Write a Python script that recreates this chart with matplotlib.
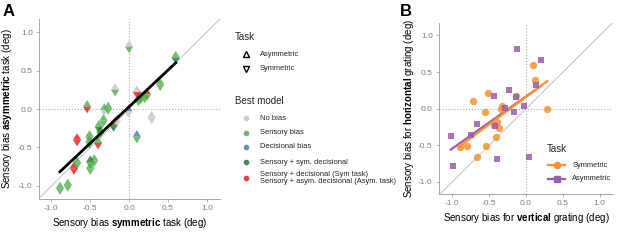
import numpy as np
import matplotlib.pyplot as plt
from matplotlib.path import Path

plt.rcParams['font.family'] = 'Liberation Sans'
plt.rcParams['mathtext.fontset'] = 'custom'
plt.rcParams['mathtext.rm'] = 'Liberation Sans'
plt.rcParams['mathtext.bf'] = 'Liberation Sans:bold'

# ---- panel A data: bias in symmetric task (x) vs asymmetric task (y)
sym_bias = [0.00, 0.60, -0.18, 0.40, 0.10, 0.23, 0.15, 0.20, 0.12, -0.54,
            -0.32, -0.27, -0.01, 0.29, 0.10, -0.16, -0.20, -0.33, -0.39, -0.37,
            -0.67, -0.51, -0.51, -0.40, -0.45, -0.50, -0.50, -0.67, -0.71, -0.89,
            -0.79]
asym_bias = [0.81, 0.67, 0.25, 0.32, 0.22, 0.19, 0.15, 0.16, 0.12, 0.03,
             -0.01, 0.01, -0.03, -0.11, -0.36, -0.15, -0.21, -0.15, -0.23, -0.30,
             -0.40, -0.36, -0.43, -0.44, -0.67, -0.69, -0.77, -0.70, -0.77, -1.03,
             -0.99]
# best model per task (top half = asymmetric, bottom half = symmetric)
asym_model = ['none', 'sensory', 'none', 'sensory', 'none', 'mixed', 'sensory', 'sensory', 'sensory', 'sensory',
              'sensory', 'sensory', 'decisional', 'none', 'decisional', 'none', 'mixed', 'sensory', 'sensory', 'sensory',
              'mixed', 'sensory', 'sensory', 'sensory', 'sensory', 'sens_sym', 'sensory', 'sensory', 'mixed', 'sensory',
              'sensory']
sym_model = ['sensory', 'sens_sym', 'sensory', 'sensory', 'mixed', 'sensory', 'sensory', 'sensory', 'sensory', 'mixed',
             'none', 'sensory', 'none', 'none', 'sensory', 'none', 'sens_sym', 'sensory', 'sens_sym', 'sensory',
             'mixed', 'sensory', 'sensory', 'mixed', 'sensory', 'sensory', 'sensory', 'sensory', 'mixed', 'sensory',
             'sensory']
fit_a = (0.95, 0.03)  # slope, intercept

model_names = ['none', 'sensory', 'decisional', 'sens_sym', 'mixed']
model_labels = ['No bias', 'Sensory bias', 'Decisional bias', 'Sensory + sym. decisional',
                'Sensory + decisional (Sym task)\nSensory + asym. decisional (Asym. task)']
model_colors = {'none': '#C4C4C4', 'sensory': '#4DAF4A', 'decisional': '#377EB8',
                'sens_sym': '#1B7837', 'mixed': '#E41A1C'}

# ---- panel B data: vertical (x) vs horizontal (y) grating bias
sym_vert = [0.09, 0.12, 0.29, -0.72, -0.51, -0.56, -0.14, -0.32, -0.34, -0.39,
            -0.43, -0.37, -0.41, -0.54, -0.80, -0.90, -0.67]
sym_horz = [0.60, 0.39, 0.00, 0.10, 0.22, -0.04, 0.18, 0.03, 0.00, -0.18,
            -0.22, -0.27, -0.39, -0.51, -0.51, -0.52, -0.66]
asym_vert = [-0.12, 0.20, 0.14, -0.23, -0.44, -0.14, -0.29, -0.03, -0.16, -0.66,
             -0.42, -0.75, -1.02, -0.99, -0.39, 0.04]
asym_horz = [0.81, 0.67, 0.32, 0.25, 0.17, 0.16, 0.01, 0.03, -0.05, -0.21,
             -0.24, -0.36, -0.37, -0.78, -0.69, -0.66]
fit_sym = (0.75, 0.16)
fit_asym = (0.71, 0.166)

orange = '#F7922E'
purple = '#9B5BB0'
grey_txt = '#7F7F7F'
axis_grey = '#9A9A9A'

# half-diamond markers
up_half = Path([(-1, 0), (1, 0), (0, 1.6), (-1, 0)], [1, 2, 2, 79])
down_half = Path([(-1, 0), (1, 0), (0, -1.6), (-1, 0)], [1, 2, 2, 79])

fig = plt.figure(figsize=(6.17, 2.46), dpi=100)


def style_axes(ax, lim_x, lim_y):
    ax.set_xlim(*lim_x)
    ax.set_ylim(*lim_y)
    for s in ['top', 'right']:
        ax.spines[s].set_visible(False)
    for s in ['left', 'bottom']:
        ax.spines[s].set_color(axis_grey)
        ax.spines[s].set_linewidth(0.6)
    ax.set_xticks([-1, -0.5, 0, 0.5, 1])
    ax.set_yticks([-1, -0.5, 0, 0.5, 1])
    ax.xaxis.set_major_formatter(plt.FormatStrFormatter('%.1f'))
    ax.yaxis.set_major_formatter(plt.FormatStrFormatter('%.1f'))
    ax.tick_params(colors=axis_grey, labelcolor=grey_txt, labelsize=6,
                   length=2.5, width=0.5, pad=2)
    ax.axhline(0, color='#AAAAAA', ls=':', lw=0.8, zorder=0)
    ax.axvline(0, color='#AAAAAA', ls=':', lw=0.8, zorder=0)
    ax.plot([-2, 2], [-2, 2], color='#AAAAAA', lw=0.5, zorder=0)


# ---- panel A
axA = fig.add_axes([39 / 617, 1 - 199 / 246, 181 / 617, 180 / 246])
style_axes(axA, (-1.16, 1.17), (-1.17, 1.17))
xa = np.array(sym_bias)
ya = np.array(asym_bias)
axA.scatter(xa, ya, marker=up_half, s=90, linewidths=0, alpha=0.8,
            c=[model_colors[m] for m in asym_model], zorder=3)
axA.scatter(xa, ya, marker=down_half, s=90, linewidths=0, alpha=0.8,
            c=[model_colors[m] for m in sym_model], zorder=3)
lx = np.array([xa.min(), xa.max()])
axA.plot(lx, fit_a[0] * lx + fit_a[1], color='black', lw=2, zorder=4)
axA.set_xlabel(r'Sensory bias $\mathbf{symmetric}$ task (deg)', fontsize=7, labelpad=3)
axA.set_ylabel(r'Sensory bias $\mathbf{asymmetric}$ task (deg)', fontsize=7, labelpad=3)

# ---- panel B
axB = fig.add_axes([439 / 617, 1 - 194 / 246, 174 / 617, 171 / 246])
style_axes(axB, (-1.18, 1.18), (-1.165, 1.17))
xs = np.array(sym_vert)
xq = np.array(asym_vert)
lq = np.array([xq.min(), xq.max()])
axB.plot(lq, fit_asym[0] * lq + fit_asym[1], color=purple, lw=1.6, zorder=2)
ls_ = np.array([xs.min(), xs.max()])
axB.plot(ls_, fit_sym[0] * ls_ + fit_sym[1], color=orange, lw=1.6, zorder=2)
axB.scatter(sym_vert, sym_horz, marker='o', s=28, color=orange, alpha=0.85,
            linewidths=0, zorder=3)
axB.scatter(asym_vert, asym_horz, marker='s', s=25, color=purple, alpha=0.85,
            linewidths=0, zorder=3)
axB.set_xlabel(r'Sensory bias for $\mathbf{vertical}$ grating (deg)', fontsize=7, labelpad=3)
axB.set_ylabel(r'Sensory bias for $\mathbf{horizontal}$ grating (deg)', fontsize=7, labelpad=1.5)

# panel B legend
axB.text(0.28, -0.55, 'Task', fontsize=7, va='center', color='#222222')
for i, (lab, col, mk) in enumerate([('Symmetric', orange, 'o'), ('Asymmetric', purple, 's')]):
    yy = -0.77 - i * 0.19
    axB.plot([0.30, 0.53], [yy, yy], color=col, lw=1.6, zorder=5)
    axB.plot([0.415], [yy], marker=mk, ms=4.5, color=col, zorder=6, ls='none')
    axB.text(0.63, yy, lab, fontsize=5.4, va='center', color='#222222')

# ---- overlay for legend of panel A and panel letters
ov = fig.add_axes([0, 0, 1, 1])
ov.set_xlim(0, 617)
ov.set_ylim(246, 0)
ov.axis('off')
ov.text(3, 12, 'A', fontsize=12, fontweight='bold', va='center')
ov.text(400, 12, 'B', fontsize=12, fontweight='bold', va='center')

ov.text(235, 37, 'Task', fontsize=7, va='center', color='#222222')
ov.plot([246], [54], marker='^', ms=4.5, mfc='none', mec='black', mew=1)
ov.text(260, 54, 'Asymmetric', fontsize=5.4, va='center', color='#222222')
ov.plot([246], [69], marker='v', ms=4.5, mfc='none', mec='black', mew=1)
ov.text(260, 69, 'Symmetric', fontsize=5.4, va='center', color='#222222')

ov.text(235, 101, 'Best model', fontsize=7, va='center', color='#222222')
leg_y = [118, 133, 147, 162, 178]
for m, lab, yy in zip(model_names, model_labels, leg_y):
    ov.plot([246], [yy], marker='o', ms=4, color=model_colors[m], alpha=0.85, mew=0)
    ov.text(260, yy, lab, fontsize=5.4, va='center', color='#222222', linespacing=1.15)

fig.savefig('out.png', dpi=100)
